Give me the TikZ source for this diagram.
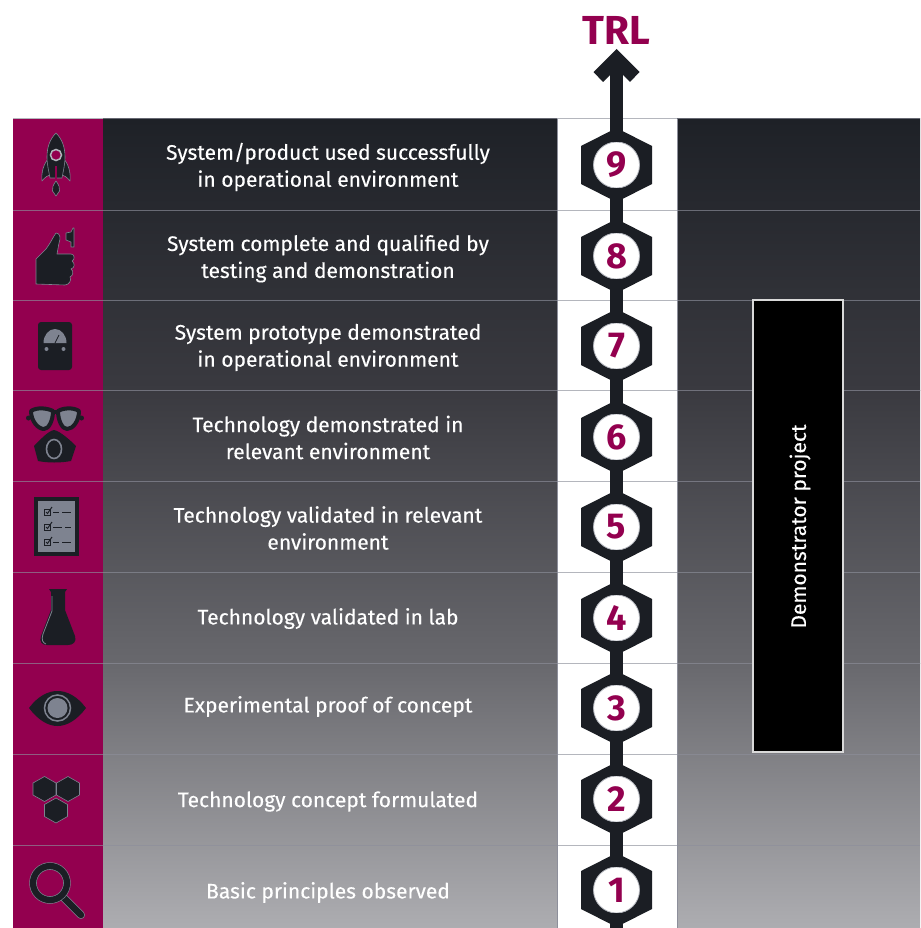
\documentclass[tikz,border=0pt]{standalone}
\usepackage{fontspec}
\setmainfont{Fira Sans}
\newfontfamily\labelfont[FakeBold=0.25]{Fira Sans}
\definecolor{crim}{HTML}{93004F}
\definecolor{ink}{HTML}{1B1E24}
\definecolor{steel}{HTML}{7E8390}
\definecolor{rule}{HTML}{8D8F9B}
\definecolor{bandA}{HTML}{1E2127}
\definecolor{bandB}{HTML}{3A3A40}
\definecolor{bandC}{HTML}{68686D}
\definecolor{bandD}{HTML}{ADADB1}
\begin{document}
\begin{tikzpicture}[x=1pt,y=-1pt,
  rowlabel/.style={text=white,align=center,font=\labelfont\fontsize{21}{27}\selectfont,inner sep=0pt},
  numnode/.style={circle,fill=white,draw=steel!60,line width=0.8pt,minimum size=46pt,inner sep=0pt,text=crim,font=\fontsize{36}{36}\selectfont\bfseries},
  link/.style={draw=ink,line width=13pt},
  rowrule/.style={draw=rule,line width=1pt},
  iconink/.style={fill=ink,draw=steel,line width=0.6pt,line join=round},
  demo/.style={fill=black,draw=white!85!black,line width=1.6pt,minimum width=90pt,minimum height=452pt,inner sep=0pt}]
\useasboundingbox (0,0) rectangle (920,928);
\fill[white] (0,0) rectangle (920,928);
% bands
\foreach \xa/\xb in {103/557,677/920}{
  \shade[top color=bandA,bottom color=bandB] (\xa,119) rectangle (\xb,390.5);
  \shade[top color=bandB,bottom color=bandC] (\xa,390) rectangle (\xb,663.5);
  \shade[top color=bandC,bottom color=bandD] (\xa,663) rectangle (\xb,928);
}
\fill[crim] (13,119) rectangle (103,928);
% row rules
\foreach \yy in {119,210,300,390,481,572,663,754,845}{
  \draw[rowrule,opacity=.65] (13,\yy) -- (920,\yy);}
\draw[rule,line width=1pt] (557,119) -- (557,928) (677,119) -- (677,928);
% hexagons and number nodes
\foreach \nn/\yy in {1/890,2/799,3/708,4/618,5/527,6/437,7/346,8/256,9/165}{
  \fill[ink] (616.5,\yy-37) -- (652,\yy-19) -- (652,\yy+19) -- (616.5,\yy+37) -- (581,\yy+19) -- (581,\yy-19) -- cycle;
  \node[numnode] (h\nn) at (616.5,\yy) {\nn};
}
% connectors
\coordinate (bottomend) at (616.5,928);
\coordinate (arrowtip) at (616.5,49);
\coordinate (arrowbase) at (616.5,70);
\foreach \aa/\bb in {1/2,2/3,3/4,4/5,5/6,6/7,7/8,8/9}{
  \draw[link] (h\aa) -- (h\bb);}
\draw[link] (h1) -- (bottomend);
\draw[link] (h9) -- (arrowbase);
\fill[ink] (arrowtip) -- (639.5,72) -- (630,82) -- (623,75) -- (610,75) -- (603,82) -- (593.5,72) -- cycle;
\node[text=crim,font=\fontsize{40.5}{40}\selectfont\bfseries,inner sep=0pt] (trl) at (616.5,30) {TRL};
% labels
\node[rowlabel] (l9) at (328,167) {System/product used successfully\\in operational environment};
\node[rowlabel] (l8) at (328,258.5) {System complete and qualified by\\testing and demonstration};
\node[rowlabel] (l7) at (328,347.5) {System prototype demonstrated\\in operational environment};
\node[rowlabel] (l6) at (328,437.5) {Technology demonstrated in\\relevant environment};
\node[rowlabel] (l5) at (328,528) {Technology validated in relevant\\environment};
\node[rowlabel] (l4) at (328,618.5) {Technology validated in lab};
\node[rowlabel] (l3) at (328,706.5) {Experimental proof of concept};
\node[rowlabel] (l2) at (328,801.5) {Technology concept formulated};
\node[rowlabel] (l1) at (328,892.5) {Basic principles observed};
% demonstrator
\node[demo] (dp) at (798,526) {};
\node[rotate=90,text=white,font=\labelfont\fontsize{21}{24}\selectfont,inner sep=0pt] (dpt) at (800,526.5) {Demonstrator project};
% rocket
\path[iconink] (49,158) .. controls (44,163) and (41,172) .. (42,181) .. controls (45,177) and (48,175) .. (52,175) -- (60,175) .. controls (64,175) and (67,177) .. (70,181) .. controls (71,172) and (68,163) .. (63,158) -- cycle;
\path[iconink] (56,133) .. controls (62,139) and (65,147) .. (65,157) .. controls (65,165) and (63,172) .. (62,178) -- (50,178) .. controls (49,172) and (47,165) .. (47,157) .. controls (47,147) and (50,139) .. (56,133) -- cycle;
\path[iconink] (56,181) .. controls (59,185) and (60,188) .. (59.5,191) -- (56,196) -- (52.5,191) .. controls (52,188) and (53,185) .. (56,181) -- cycle;
\fill[crim] (54.7,166) rectangle (57.3,180);
\draw[fill=crim,draw=steel!60!white,line width=1.5pt] (56,155) circle (5.5);
% thumb
\path[iconink] (36,259) -- (46,249) .. controls (50,244) and (53,237) .. (56,233) .. controls (60,233) and (61,238) .. (59,243) -- (57,254) -- (71,254) .. controls (75,254) and (75,260) .. (72,261) .. controls (75,263) and (75,268) .. (71,269) .. controls (74,271) and (73,276) .. (70,277) .. controls (72,280) and (69,285) .. (65,285) -- (36,284) -- cycle;
\path[iconink] (73,228) -- (74,228) -- (74,247) -- (71,247) -- (71,242) -- (66,240) -- (66,233) -- (71,232) -- cycle;
% gauge
\fill[ink,rounded corners=3pt] (38,322) rectangle (72,370);
\fill[steel] (43.5,343) arc[start angle=180,end angle=360,x radius=11.5,y radius=14] -- cycle;
\draw[ink,line width=0.8pt] (55,343) -- (59,335);
\fill[steel] (46.5,349) circle (2) (63.5,349) circle (2);
% goggles and mask
\draw[fill=steel,draw=ink,line width=4pt,line join=round] (31,411) .. controls (37,407) and (47,408) .. (53,411) .. controls (53,420) and (49,429) .. (44,429) .. controls (38,429) and (31,421) .. (31,411) -- cycle;
\draw[fill=steel,draw=ink,line width=4pt,line join=round] (79,411) .. controls (73,407) and (63,408) .. (58,411) .. controls (58,420) and (62,429) .. (67,429) .. controls (73,429) and (79,421) .. (79,411) -- cycle;
\draw[ink,line width=3.5pt] (52,412) -- (59,412);
\fill[ink] (28.5,418) circle (2.5) (81.5,418) circle (2.5);
\fill[ink] (54,430) .. controls (60,431) and (70,440) .. (76,446) -- (71,461) .. controls (60,463) and (48,463) .. (38,461) -- (34,446) .. controls (40,440) and (48,431) .. (54,430) -- cycle;
\draw[fill=ink,draw=steel,line width=1.6pt] (54,449) ellipse (7.5 and 9.5);
% checklist
\fill[ink] (34,497) rectangle (79,556);
\fill[steel] (38,501) rectangle (75,552);
\foreach \yy in {512,527,542}{
  \draw[ink,line width=1pt] (44,\yy-3) rectangle (50,\yy+3);
  \draw[ink,line width=1pt] (46,\yy) -- (47.5,\yy+1.5) -- (52,\yy-5);
}
\draw[ink,line width=1pt] (53,512) -- (59,512) (62,512) -- (71,512)
  (53,527) -- (62,527) (65,527) -- (71,527)
  (53,542) -- (59,542) (62,542) -- (71,542);
% flask
\path[fill=ink] (49,589) -- (67,589) -- (65,592) -- (65,610) -- (75,636) .. controls (77,642) and (73,645) .. (68,645) -- (47,645) .. controls (42,645) and (39,642) .. (41,636) -- (51,610) -- (51,592) -- cycle;
\draw[steel,line width=0.8pt] (52,596) -- (52,611) -- (43,634) .. controls (41,640) and (43,643) .. (46,644);
% eye
\path[fill=ink] (29,708) .. controls (38,696) and (48,691) .. (57.5,691) .. controls (67,691) and (77,696) .. (86,708) .. controls (77,720) and (67,726) .. (57.5,726) .. controls (48,726) and (38,720) .. (29,708) -- cycle;
\fill[steel] (57.5,708) circle (10);
\draw[steel,line width=1.5pt] (57.5,708) circle (13);
% hexagons icon
\foreach \xx/\yy in {44.5/789,68/789,56/810.5}{
  \path[iconink] (\xx,\yy-12.5) -- (\xx+11.5,\yy-6) -- (\xx+11.5,\yy+6) -- (\xx,\yy+12.5) -- (\xx-11.5,\yy+6) -- (\xx-11.5,\yy-6) -- cycle;
}
% magnifier
\draw[steel,line width=8pt,line cap=round] (64,898) -- (81,915);
\draw[ink,line width=6.5pt,line cap=round] (64,898) -- (81,915);
\draw[steel,line width=7.5pt] (50,883) circle (17);
\draw[ink,line width=6.2pt] (50,883) circle (17);
\end{tikzpicture}
\end{document}
